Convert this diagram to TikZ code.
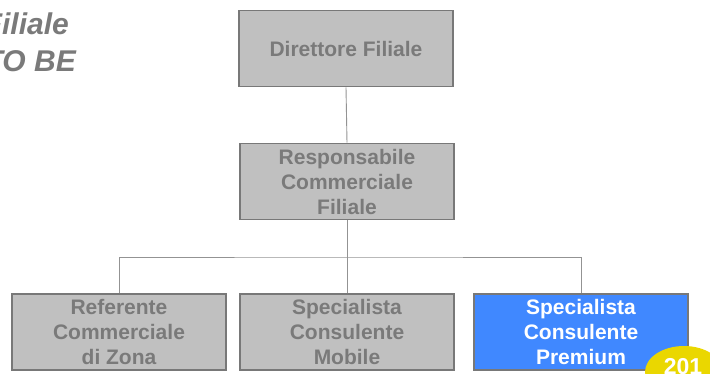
\documentclass[tikz,border=0pt]{standalone}
\usepackage{fontspec}
\setmainfont{Liberation Sans}
\usetikzlibrary{shapes.geometric}
\definecolor{boxgray}{HTML}{C0C0C0}
\definecolor{linegray}{HTML}{787878}
\definecolor{textgray}{HTML}{7A7A7A}
\definecolor{premblue}{HTML}{4088FF}
\definecolor{badgeyellow}{HTML}{EAD700}
\begin{document}
\begin{tikzpicture}[x=1pt, y=-1pt,
		role/.style={draw=linegray, line width=1.6pt, fill=boxgray, minimum width=214pt, minimum height=76pt, align=center, text=textgray, font=\fontsize{21}{25}\selectfont\bfseries, inner sep=0pt},
		link/.style={draw=linegray!80, line width=0.9pt}]
		\useasboundingbox (0,0) rectangle (710,374);
		\clip (0,0) rectangle (710,374);
		% title, cut at the left edge
		\node[anchor=base east, text=textgray, font=\fontsize{30}{36}\selectfont\bfseries\itshape, inner sep=0pt] (title1) at (69,35) {Filiale};
		\node[anchor=base east, text=textgray, font=\fontsize{30}{36}\selectfont\bfseries\itshape, inner sep=0pt] (title2) at (76,72) {TO BE};
		% boxes
		\node[role] (dir) at (346,48.5) {Direttore Filiale};
		\node[role] (resp) at (347,181.5) {Responsabile\\Commerciale\\Filiale};
		\node[role] (ref) at (119,332) {Referente\\Commerciale\\di Zona};
		\node[role] (mob) at (347,332) {Specialista\\Consulente\\Mobile};
		\node[role, fill=premblue, text=white] (prem) at (581,332) {Specialista\\Consulente\\Premium};
		\coordinate (bus) at (347,257);
		% connectors
		\draw[link] (dir.south) -- (resp.north);
		\draw[link] (resp.south) -- (mob.north);
		\draw[link] (ref.north) |- (bus) -| (prem.north);
		% page badge
		\node[ellipse, fill=badgeyellow, minimum width=78pt, minimum height=52pt] (badge) at (684,372) {};
		\node[anchor=base, text=white, font=\fontsize{23}{27}\selectfont\bfseries, inner sep=0pt] (pagenum) at (683,374) {201};
\end{tikzpicture}
\end{document}
